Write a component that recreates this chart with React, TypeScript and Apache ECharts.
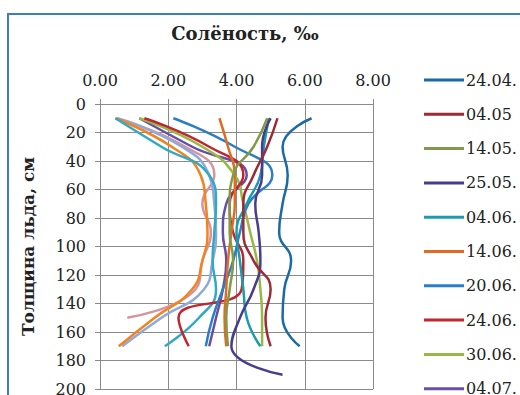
import React, { useEffect, useRef } from "react";
import * as echarts from "echarts";

// depth of each sample, cm
const DEPTHS = [10, 30, 50, 70, 90, 110, 130, 150, 170, 190];

// legend names (visible in the reference)
const LEGEND_NAMES = ["24.04.", "04.05", "14.05.", "25.05.", "04.06.", "14.06.", "20.06.", "24.06.", "30.06.", "04.07."];
const EXTRA_NAMES = ["s11", "s12", "s13", "s14"];

const X_TICKS = [0, 2, 4, 6, 8];
const Y_TICKS = [0, 20, 40, 60, 80, 100, 120, 140, 160, 180, 200];

// salinity, ‰, at each depth
const S_2404 = [6.2, 5.35, 5.5, 5.35, 5.25, 5.6, 5.4, 5.35, 5.85];
const S_0405 = [5.2, 4.9, 4.5, 4.2, 4.2, 4.5, 5.0, 4.85, 5.0];
const S_1405 = [4.9, 4.5, 3.9, 3.8, 3.8, 3.9, 3.8, 3.7, 3.75];
const S_2505 = [5.0, 4.75, 4.75, 4.55, 4.65, 4.7, 4.5, 4.1, 3.85, 5.35];
const S_0406 = [4.95, 4.8, 4.7, 4.3, 4.0, 4.1, 4.2, 4.3, 4.7];
const S_1406 = [3.5, 3.75, 3.95, 3.95, 3.85, 3.75, 3.7, 3.65, 3.7];
const S_2006 = [2.15, 3.95, 5.05, 4.35, 4.1, 3.9, 3.6, 3.3, 3.1];
const S_2406 = [1.3, 3.2, 4.2, 3.8, 3.9, 4.2, 4.15, 2.3, 2.6];
const S_3006 = [1.15, 3.0, 3.95, 4.2, 4.4, 4.6, 4.7, 4.75, 4.75];
const S_0407 = [1.15, 2.7, 4.3, 3.7, 3.6, 3.7, 3.6, 3.4, 3.2];
const S_11 = [0.45, 1.8, 3.2, 3.4, 3.35, 3.3, 3.4, 2.9, 1.9];
const S_12 = [0.45, 2.1, 2.95, 3.1, 3.15, 3.0, 2.7, 1.6, 0.55];
const S_13 = [0.5, 2.4, 3.2, 3.35, 3.4, 3.3, 3.05, 1.8, 0.65];
const S_14 = [0.5, 2.5, 3.35, 3.0, 3.25, 3.0, 2.8, 0.8];

const ALL_VALUES = [S_2404, S_0405, S_1405, S_2505, S_0406, S_1406, S_2006, S_2406, S_3006, S_0407, S_11, S_12, S_13, S_14];
const COLORS = [
  "#1b6aa5", "#9c2b34", "#7f9a48", "#4a3c8c", "#1a9bb0", "#e06b22", "#2a7fc4",
  "#c0262d", "#98b845", "#6650a6", "#31a9c4", "#f4821f", "#8eaadb", "#d6949f",
];

const FONT = "DejaVu Serif";

export default function App() {
  const ref = useRef<HTMLDivElement>(null);
  useEffect(() => {
    if (!ref.current) return;
    const chart = echarts.init(ref.current, undefined, { renderer: "svg" });
    const names = [...LEGEND_NAMES, ...EXTRA_NAMES];
    const series = ALL_VALUES.map((vals, i) => ({
      name: names[i],
      type: "line",
      smooth: 0.5,
      symbol: "none",
      lineStyle: { width: 2.5, color: COLORS[i] },
      itemStyle: { color: COLORS[i] },
      data: vals.map((v, k) => [v, DEPTHS[k]]),
      z: 14 - i,
    }));
    chart.setOption({
      animation: false,
      backgroundColor: "#ffffff",
      textStyle: { fontFamily: FONT },
      grid: { left: 100, top: 104, width: 273, height: 285 },
      xAxis: {
        type: "value",
        position: "top",
        min: X_TICKS[0],
        max: X_TICKS[X_TICKS.length - 1],
        interval: 2,
        axisLine: { show: true, lineStyle: { color: "#8a8a8a", width: 1 } },
        axisTick: { show: true, length: 5, lineStyle: { color: "#8a8a8a" } },
        splitLine: { show: true, lineStyle: { color: "#8a8a8a", width: 1 } },
        axisLabel: {
          margin: 16,
          fontFamily: FONT,
          fontSize: 16,
          color: "#222",
          formatter: (v: number) => v.toFixed(2),
        },
      },
      yAxis: {
        type: "value",
        inverse: true,
        min: Y_TICKS[0],
        max: Y_TICKS[Y_TICKS.length - 1],
        interval: 20,
        name: "Толщина льда, см",
        nameLocation: "middle",
        nameGap: 64,
        nameTextStyle: { fontFamily: FONT, fontSize: 17, fontWeight: "bold", color: "#222" },
        axisLine: { show: true, lineStyle: { color: "#8a8a8a", width: 1 } },
        axisTick: { show: true, length: 5, lineStyle: { color: "#8a8a8a" } },
        splitLine: { show: true, lineStyle: { color: "#8a8a8a", width: 1 } },
        axisLabel: { margin: 14, fontFamily: FONT, fontSize: 16, color: "#222" },
      },
      legend: {
        data: LEGEND_NAMES.map((n) => ({ name: n, icon: "rect" })),
        orient: "vertical",
        left: 419,
        top: 67,
        itemWidth: 40,
        itemHeight: 3,
        itemGap: 18.3,
        textStyle: { fontFamily: FONT, fontSize: 16, color: "#222", lineHeight: 16, padding: [0, 0, 0, -3] },
      },
      graphic: [
        {
          type: "rect",
          shape: { x: 8, y: 14, width: 700, height: 700 },
          style: { fill: "none", stroke: "#3b7cc4", lineWidth: 2 },
          silent: true,
        },
        {
          type: "text",
          x: 245,
          y: 33,
          style: {
            text: "Солёность, ‰",
            fontFamily: FONT,
            fontSize: 18,
            fontWeight: "bold",
            fill: "#222",
            textAlign: "center",
            textVerticalAlign: "middle",
          },
        },
      ],
      series,
    });
    return () => chart.dispose();
  }, []);
  return (
    <div style={{ position: "fixed", left: 0, top: 0, width: 520, height: 395, overflow: "hidden", background: "#fff" }}>
      <div ref={ref} style={{ width: 520, height: 440 }} />
    </div>
  );
}
